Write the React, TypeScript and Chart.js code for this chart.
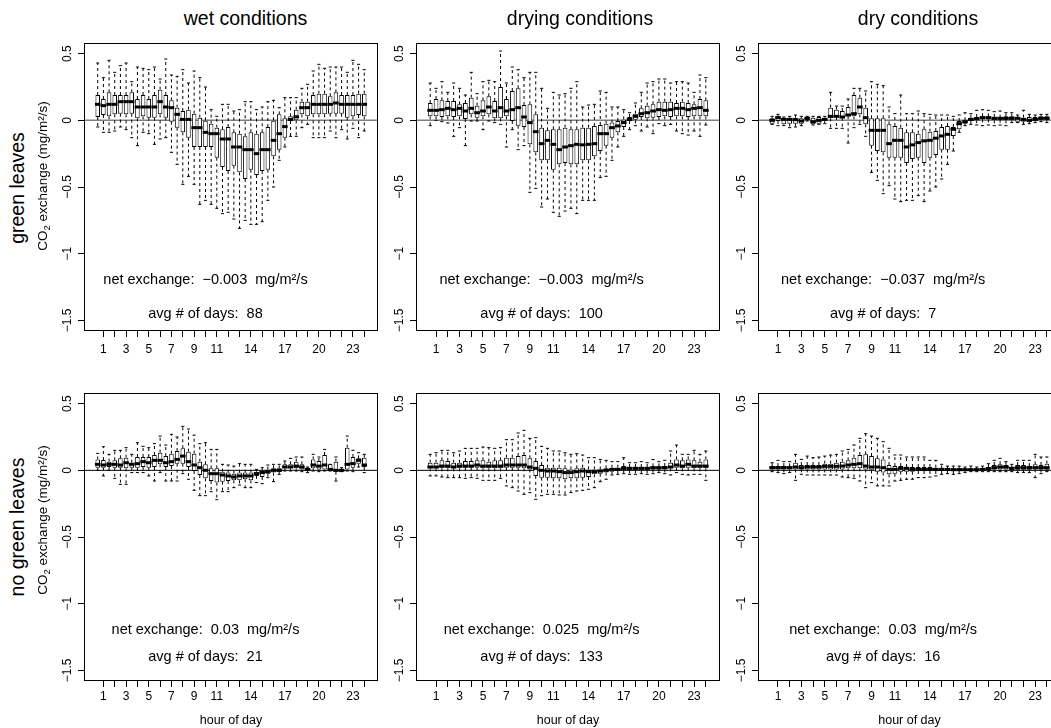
import React, { useEffect, useRef } from 'react';
import { Chart, registerables } from 'chart.js';

Chart.register(...registerables);

const FONT = "'Liberation Sans', Arial, Helvetica, sans-serif";

// ---------- categories / ticks ----------
const HALF_HOUR_SLOTS = [1,2,3,4,5,6,7,8,9,10,11,12,13,14,15,16,17,18,19,20,21,22,23,24,25,26,27,28,29,30,31,32,33,34,35,36,37,38,39,40,41,42,43,44,45,46,47,48];
const HOUR_TICK_SLOTS = [2,4,6,8,10,12,14,16,18,20,22,24,26,28,30,32,34,36,38,40,42,44,46,48];
const HOUR_TICK_LABELS = ['1','','3','','5','','7','','9','','11','','','14','','','17','','','20','','','23',''];
const Y_TICK_VALUES = [-1.5, -1, -0.5, 0, 0.5];
const Y_TICK_LABELS = ['\u22121.5', '\u22121', '\u22120.5', '0', '0.5'];
const COLUMN_TITLES = ['wet conditions', 'drying conditions', 'dry conditions'];
const ROW_TITLES = ['green leaves', 'no green leaves'];
const NET_EXCHANGE = ['\u22120.003', '\u22120.003', '\u22120.037', '0.03', '0.025', '0.03'];
const AVG_DAYS = ['88', '100', '7', '21', '133', '16'];

// ---------- wet conditions, green leaves ----------
const WET_GREEN_MAX = [0.43,0.32,0.45,0.36,0.41,0.43,0.29,0.40,0.39,0.38,0.40,0.31,
  0.46,0.34,0.33,0.38,0.28,0.37,0.32,0.25,0.08,0.03,0.12,0.12,
  0.07,0.08,0.14,0.14,0.08,0.10,0.14,0.15,0.095,0.17,0.17,0.17,
  0.24,0.27,0.37,0.42,0.39,0.40,0.40,0.40,0.36,0.45,0.42,0.38];
const WET_GREEN_Q3 = [0.19,0.16,0.21,0.19,0.19,0.19,0.21,0.16,0.19,0.16,0.19,0.23,
  0.19,0.15,0.095,0.07,0.08,0.05,0.02,0.0,-0.025,-0.055,-0.067,-0.05,
  -0.09,-0.10,-0.12,-0.09,-0.10,-0.09,-0.05,0.0,0.045,0.015,0.03,0.08,
  0.14,0.14,0.19,0.2,0.2,0.18,0.21,0.19,0.19,0.19,0.2,0.2];
const WET_GREEN_MED = [0.12,0.11,0.12,0.12,0.14,0.14,0.14,0.10,0.10,0.10,0.10,0.14,
  0.10,0.095,0.045,0.007,0.007,-0.055,-0.055,-0.09,-0.10,-0.10,-0.14,-0.14,
  -0.2,-0.2,-0.22,-0.22,-0.25,-0.22,-0.22,-0.15,-0.10,-0.047,0.007,0.027,
  0.095,0.095,0.12,0.12,0.12,0.12,0.13,0.12,0.12,0.12,0.12,0.12];
const WET_GREEN_Q1 = [0.025,0.04,0.03,0.045,0.05,0.045,0.05,0.015,0.03,0.02,0.02,0.045,
  0.02,-0.01,-0.055,-0.09,-0.13,-0.2,-0.2,-0.2,-0.2,-0.28,-0.35,-0.38,
  -0.34,-0.39,-0.44,-0.37,-0.41,-0.38,-0.37,-0.27,-0.22,-0.13,-0.005,0,
  0.045,0.03,0.045,0.045,0.045,0.05,0.05,0.05,0.02,0.03,0.04,0.03];
const WET_GREEN_MIN = [-0.05,-0.09,-0.09,-0.08,-0.05,-0.07,-0.13,-0.19,-0.09,-0.10,-0.18,-0.14,
  -0.13,-0.24,-0.33,-0.48,-0.42,-0.48,-0.63,-0.6,-0.63,-0.66,-0.70,-0.69,
  -0.74,-0.81,-0.75,-0.78,-0.78,-0.76,-0.60,-0.5,-0.30,-0.2,-0.12,-0.12,
  -0.055,-0.03,-0.13,-0.13,-0.13,-0.08,-0.13,-0.07,-0.14,-0.06,-0.13,-0.08];

// ---------- drying conditions, green leaves ----------
const DRYING_GREEN_MAX = [0.28,0.24,0.29,0.21,0.28,0.24,0.19,0.36,0.2,0.29,0.30,0.29,
  0.52,0.28,0.40,0.38,0.32,0.36,0.36,0.24,0.09,0.21,0.19,0.2,
  0.24,0.29,0.10,0.115,0.12,0.22,0.21,0.10,0.10,0.08,0.057,0.13,
  0.21,0.28,0.29,0.31,0.31,0.28,0.29,0.29,0.28,0.21,0.34,0.32];
const DRYING_GREEN_Q3 = [0.13,0.16,0.15,0.145,0.145,0.12,0.13,0.17,0.11,0.15,0.18,0.145,
  0.25,0.16,0.22,0.24,0.115,0.12,0.045,-0.055,-0.075,-0.067,-0.067,-0.055,
  -0.067,-0.067,-0.055,-0.055,-0.042,-0.035,-0.025,-0.017,-0.005,0.007,0.025,0.05,
  0.09,0.11,0.12,0.14,0.14,0.14,0.13,0.14,0.13,0.12,0.16,0.15];
const DRYING_GREEN_MED = [0.075,0.075,0.08,0.09,0.08,0.09,0.07,0.09,0.057,0.07,0.10,0.07,
  0.095,0.07,0.08,0.095,0.025,-0.017,-0.085,-0.175,-0.15,-0.18,-0.22,-0.2,
  -0.19,-0.18,-0.184,-0.18,-0.175,-0.10,-0.10,-0.055,-0.042,-0.017,0.007,0.03,
  0.05,0.057,0.07,0.08,0.075,0.08,0.09,0.09,0.08,0.09,0.095,0.075];
const DRYING_GREEN_Q1 = [0.03,0.03,0.025,0.03,0.025,0.03,0.01,0.045,0.02,0.03,0.045,0.015,
  0.015,0.03,-0.005,-0.04,-0.05,-0.18,-0.24,-0.30,-0.30,-0.37,-0.33,-0.32,
  -0.33,-0.33,-0.30,-0.30,-0.27,-0.23,-0.19,-0.13,-0.09,-0.05,-0.005,0,
  0.025,0.015,0.02,0.025,0.03,0.025,0.03,0.03,0.025,0.03,0.03,0.03];
const DRYING_GREEN_MIN = [-0.04,0,-0.01,-0.02,-0.12,-0.055,-0.19,-0.005,-0.005,-0.07,-0.005,-0.017,
  -0.03,-0.2,-0.07,-0.22,-0.19,-0.54,-0.51,-0.65,-0.59,-0.69,-0.72,-0.68,
  -0.66,-0.70,-0.60,-0.60,-0.60,-0.43,-0.42,-0.30,-0.2,-0.12,-0.07,-0.04,
  -0.08,-0.05,-0.10,-0.025,-0.04,-0.03,-0.08,-0.10,-0.11,-0.08,-0.12,-0.035];

// ---------- dry conditions, green leaves ----------
const DRY_GREEN_MAX = [0.03,0.045,0.025,0.03,0.04,0.03,0.03,0.03,0.03,0.03,0.21,0.107,
  0.107,0.16,0.24,0.24,0.22,0.29,0.27,0.26,0.10,0.05,0.19,0.05,
  0.05,0.07,0.05,0.045,0.04,0.04,0.04,0.03,0.04,0.057,0.05,0.075,
  0.08,0.075,0.065,0.07,0.057,0.057,0.04,0.075,0.045,0.04,0.045,0.045];
const DRY_GREEN_Q3 = [0.015,0.03,0.02,0.02,0.02,0.015,0.02,0.02,0.025,0.02,0.095,0.08,
  0.07,0.10,0.19,0.17,0.095,0.015,0.015,0.015,-0.03,-0.042,-0.055,-0.09,
  -0.09,-0.10,-0.067,-0.085,-0.08,-0.05,-0.042,-0.05,-0.005,0,0.02,0.025,
  0.03,0.03,0.025,0.02,0.03,0.03,0.02,0.02,0.025,0.025,0.03,0.03];
const DRY_GREEN_MED = [0,0.02,0.007,0.007,0.005,-0.005,0.015,-0.01,0,0.007,0.03,0.03,
  0.025,0.04,0.05,0.10,0.02,-0.075,-0.075,-0.075,-0.175,-0.15,-0.15,-0.2,
  -0.184,-0.167,-0.154,-0.15,-0.134,-0.117,-0.105,-0.067,-0.025,-0.01,0.007,0.012,
  0.02,0.02,0.015,0.015,0.015,0.015,0.015,0.007,0,0.007,0.015,0.015];
const DRY_GREEN_Q1 = [-0.025,-0.005,-0.03,-0.025,-0.025,-0.025,0.005,-0.03,-0.025,0,0.015,0.025,
  0.02,0.03,0.03,0.045,-0.03,-0.19,-0.23,-0.24,-0.28,-0.28,-0.28,-0.32,
  -0.29,-0.28,-0.32,-0.28,-0.26,-0.22,-0.22,-0.117,-0.067,-0.025,-0.005,0,
  0.007,0.007,0,0.005,0,0,-0.01,-0.01,-0.01,-0.005,0,0];
const DRY_GREEN_MIN = [-0.03,-0.04,-0.04,-0.055,-0.05,-0.04,-0.005,-0.035,-0.03,-0.025,-0.06,-0.06,
  -0.06,-0.17,-0.055,-0.03,-0.12,-0.39,-0.45,-0.55,-0.49,-0.59,-0.61,-0.60,
  -0.60,-0.565,-0.61,-0.53,-0.50,-0.44,-0.33,-0.23,-0.09,-0.04,-0.03,-0.035,
  -0.04,-0.035,-0.04,-0.035,-0.04,-0.017,-0.017,-0.03,-0.025,-0.017,-0.01,-0.017];

// ---------- wet conditions, no green leaves ----------
const WET_BARE_MAX = [0.127,0.177,0.12,0.15,0.15,0.17,0.12,0.207,0.18,0.17,0.2,0.257,
  0.19,0.27,0.25,0.33,0.31,0.264,0.2,0.207,0.157,0.157,0.045,0.04,
  0.032,0.05,0.045,0.045,0.007,0.02,0.04,0.045,0.045,0.07,0.09,0.1,
  0.1,0.025,0.12,0.1,0.157,0.045,0.1,0.02,0.257,0.15,0.132,0.12];
const WET_BARE_Q3 = [0.082,0.077,0.065,0.075,0.09,0.095,0.057,0.10,0.10,0.10,0.115,0.132,
  0.107,0.125,0.145,0.165,0.14,0.125,0.065,0.045,0.015,0.015,-0.01,-0.017,
  -0.025,-0.017,-0.017,-0.017,-0.01,0,0.007,0.015,0.015,0.045,0.045,0.065,
  0.045,0.015,0.082,0.07,0.115,0.045,0.065,0.007,0.17,0.1,0.09,0.095];
const WET_BARE_MED = [0.045,0.04,0.045,0.045,0.04,0.057,0.045,0.05,0.065,0.057,0.075,0.075,
  0.057,0.065,0.082,0.107,0.065,0.04,0.02,0,-0.025,-0.025,-0.035,-0.042,
  -0.05,-0.042,-0.042,-0.042,-0.025,-0.017,-0.01,0,0,0.025,0.025,0.032,
  0.025,0.007,0.04,0.032,0.04,0.007,0,0,0.045,0.05,0.075,0.04];
const WET_BARE_Q1 = [0.02,0.02,0.025,0.02,0.02,0.015,0.02,0.02,0.025,0.02,0.025,0.045,
  0.025,0.032,0.05,0.05,0.025,-0.005,-0.035,-0.06,-0.08,-0.092,-0.085,-0.08,
  -0.075,-0.075,-0.067,-0.075,-0.042,-0.05,-0.025,-0.017,-0.01,0.015,0.015,0.015,
  0.007,-0.005,0.015,0.007,0.007,-0.005,-0.01,-0.005,0.007,0.02,0.05,0.025];
const WET_BARE_MIN = [0,-0.042,0,-0.06,-0.105,-0.105,-0.017,-0.017,-0.017,-0.042,-0.08,-0.017,
  -0.08,-0.08,-0.08,-0.025,-0.067,-0.15,-0.19,-0.19,-0.16,-0.22,-0.16,-0.16,
  -0.13,-0.11,-0.13,-0.13,-0.092,-0.1,-0.055,-0.085,-0.03,-0.005,-0.005,-0.005,
  -0.01,-0.017,-0.005,-0.01,-0.005,-0.005,-0.08,-0.01,-0.005,-0.01,0.025,-0.017];

// ---------- drying conditions, no green leaves ----------
const DRYING_BARE_MAX = [0.12,0.132,0.15,0.15,0.132,0.145,0.165,0.165,0.165,0.175,0.17,0.165,
  0.17,0.23,0.23,0.28,0.3,0.24,0.245,0.18,0.165,0.145,0.145,0.132,
  0.12,0.125,0.115,0.095,0.095,0.082,0.075,0.065,0.065,0.095,0.057,0.057,
  0.065,0.057,0.082,0.065,0.075,0.145,0.19,0.12,0.12,0.15,0.12,0.145];
const DRYING_BARE_Q3 = [0.057,0.057,0.075,0.07,0.057,0.057,0.07,0.07,0.075,0.075,0.065,0.075,
  0.075,0.095,0.095,0.107,0.115,0.09,0.07,0.04,0.02,0.02,0.02,0.015,
  0.007,0.015,0.02,0.007,0.007,0.007,0.015,0.02,0.02,0.032,0.025,0.025,
  0.025,0.025,0.03,0.03,0.032,0.057,0.082,0.075,0.082,0.075,0.065,0.082];
const DRYING_BARE_MED = [0.025,0.025,0.032,0.032,0.025,0.032,0.032,0.032,0.04,0.032,0.032,0.032,
  0.032,0.04,0.04,0.04,0.04,0.025,0.015,0,-0.005,-0.005,-0.01,-0.017,
  -0.017,-0.01,-0.005,-0.01,-0.01,-0.005,0,0.007,0.007,0.015,0.015,0.015,
  0.015,0.015,0.02,0.02,0.02,0.025,0.04,0.032,0.045,0.032,0.032,0.032];
const DRYING_BARE_Q1 = [0.015,0.015,0.015,0.015,0.015,0.015,0.02,0.02,0.02,0.015,0.015,0.015,
  0.015,0.02,0.02,0.02,0.015,0.007,-0.042,-0.055,-0.055,-0.06,-0.06,-0.067,
  -0.06,-0.06,-0.055,-0.05,-0.03,-0.025,-0.017,-0.01,-0.005,0,0,0,
  0,0,0.005,0.005,0.007,0.015,0.02,0.015,0.02,0.015,0.015,0.015];
const DRYING_BARE_MIN = [-0.042,-0.042,-0.05,-0.055,-0.055,-0.055,-0.06,-0.055,-0.06,-0.075,-0.075,-0.075,
  -0.06,-0.117,-0.13,-0.155,-0.18,-0.167,-0.217,-0.19,-0.18,-0.18,-0.185,-0.185,
  -0.167,-0.155,-0.15,-0.142,-0.13,-0.085,-0.067,-0.035,-0.03,-0.025,-0.03,-0.03,
  -0.025,-0.03,-0.025,-0.017,-0.025,-0.035,-0.017,-0.03,-0.035,-0.03,-0.03,-0.075];

// ---------- dry conditions, no green leaves ----------
const DRY_BARE_MAX = [0.057,0.075,0.065,0.065,0.12,0.082,0.107,0.095,0.1,0.107,0.115,0.12,
  0.145,0.157,0.19,0.24,0.275,0.257,0.24,0.215,0.165,0.115,0.115,0.1,
  0.1,0.1,0.1,0.075,0.075,0.045,0.032,0.032,0.032,0.025,0.032,0.025,
  0.032,0.05,0.075,0.09,0.065,0.045,0.075,0.075,0.075,0.12,0.1,0.1];
const DRY_BARE_Q3 = [0.032,0.032,0.032,0.03,0.057,0.04,0.04,0.04,0.04,0.05,0.05,0.057,
  0.065,0.075,0.095,0.115,0.12,0.107,0.09,0.082,0.04,0.032,0.032,0.025,
  0.025,0.025,0.025,0.025,0.02,0.015,0.015,0.015,0.015,0.01,0.01,0.01,
  0.015,0.025,0.04,0.045,0.04,0.025,0.04,0.04,0.032,0.045,0.04,0.05];
const DRY_BARE_MED = [0.02,0.02,0.02,0.02,0.025,0.02,0.025,0.025,0.025,0.03,0.03,0.03,
  0.032,0.04,0.045,0.05,0.032,0.025,0.025,0.02,0.007,0.007,0.015,0.015,
  0.007,0.007,0.007,0.007,0.007,0.007,0.007,0.005,0.005,0.005,0.005,0.005,
  0.007,0.012,0.02,0.025,0.025,0.015,0.02,0.02,0.02,0.02,0.02,0.02];
const DRY_BARE_Q1 = [0.007,0.007,0.007,0.007,0.007,0.007,0.007,0.007,0.007,0.007,0.007,0.007,
  0.007,0.015,0.015,0.015,0.007,0,-0.01,-0.017,-0.03,-0.025,-0.01,-0.01,
  -0.01,-0.005,-0.005,-0.005,-0.005,-0.005,-0.005,-0.005,-0.005,-0.005,-0.005,-0.005,
  0,0,0.007,0.007,0.007,0.005,0.005,0.005,0.005,0.007,0.005,0.005];
const DRY_BARE_MIN = [-0.01,-0.017,-0.025,-0.017,-0.075,-0.03,-0.035,-0.035,-0.035,-0.035,-0.035,-0.035,
  -0.05,-0.055,-0.06,-0.08,-0.13,-0.092,-0.117,-0.117,-0.117,-0.08,-0.075,-0.067,
  -0.067,-0.055,-0.055,-0.05,-0.042,-0.03,-0.025,-0.03,-0.025,-0.017,-0.01,-0.01,
  -0.01,-0.01,-0.01,-0.01,-0.01,-0.01,-0.017,-0.017,-0.017,-0.055,-0.025,-0.01];

// ---------- panel table (built from the arrays above) ----------
const PANELS = [
  { col: 0, row: 0, max: WET_GREEN_MAX, q3: WET_GREEN_Q3, med: WET_GREEN_MED, q1: WET_GREEN_Q1, min: WET_GREEN_MIN },
  { col: 1, row: 0, max: DRYING_GREEN_MAX, q3: DRYING_GREEN_Q3, med: DRYING_GREEN_MED, q1: DRYING_GREEN_Q1, min: DRYING_GREEN_MIN },
  { col: 2, row: 0, max: DRY_GREEN_MAX, q3: DRY_GREEN_Q3, med: DRY_GREEN_MED, q1: DRY_GREEN_Q1, min: DRY_GREEN_MIN },
  { col: 0, row: 1, max: WET_BARE_MAX, q3: WET_BARE_Q3, med: WET_BARE_MED, q1: WET_BARE_Q1, min: WET_BARE_MIN },
  { col: 1, row: 1, max: DRYING_BARE_MAX, q3: DRYING_BARE_Q3, med: DRYING_BARE_MED, q1: DRYING_BARE_Q1, min: DRYING_BARE_MIN },
  { col: 2, row: 1, max: DRY_BARE_MAX, q3: DRY_BARE_Q3, med: DRY_BARE_MED, q1: DRY_BARE_Q1, min: DRY_BARE_MIN },
];

// ---------- layout ----------
const X_MIN = -1.42, X_MAX = 50.42;
const Y_MIN = -1.58, Y_MAX = 0.58;
const COL_LEFT = [84, 416, 758];
const COL_RIGHT = [378, 720, 1061];
const ROW_TOP = [42, 392];
const ROW_BOTTOM = [331, 681];
const YW = 50, XH = 34, PAD_T = 6, PAD_R = 8;
const ANNOT_SLOT = 20;
const NET_Y = -1.2;
const AVG_Y = [-1.455, -1.4];
const TITLE_X = [245.5, 580, 918];
const ZERO_STYLE = [{ color: '#808080', width: 1.5 }, { color: '#000000', width: 1 }];

function BoxPanel({ idx }: { idx: number }) {
  const ref = useRef<HTMLCanvasElement>(null);
  const p = PANELS[idx];
  const L = COL_LEFT[p.col], R = COL_RIGHT[p.col], T = ROW_TOP[p.row], B = ROW_BOTTOM[p.row];
  const left = L - YW, top = T - PAD_T;
  const width = R - L + YW + PAD_R, height = B - T + PAD_T + XH;

  useEffect(() => {
    if (!ref.current) return;
    const unit = (R - L) / (X_MAX - X_MIN);
    const boxW = 0.8 * unit;
    const whisker: any[] = [];
    const caps: any[] = [];
    HALF_HOUR_SLOTS.forEach((x, i) => {
      whisker.push({ x, y: p.q3[i] }, { x, y: p.max[i] }, { x, y: null });
      whisker.push({ x, y: p.q1[i] }, { x, y: p.min[i] }, { x, y: null });
      caps.push({ x, y: p.max[i] }, { x, y: p.min[i] });
    });
    const zs = ZERO_STYLE[p.row];
    const decor = {
      id: 'decor' + idx,
      beforeDatasetsDraw(chart: any) {
        const { ctx, chartArea: a, scales } = chart;
        const y0 = scales.y.getPixelForValue(0);
        ctx.save();
        ctx.strokeStyle = zs.color;
        ctx.lineWidth = zs.width;
        ctx.beginPath();
        ctx.moveTo(a.left, y0);
        ctx.lineTo(a.right, y0);
        ctx.stroke();
        ctx.restore();
      },
      afterDraw(chart: any) {
        const { ctx, chartArea: a, scales } = chart;
        ctx.save();
        ctx.strokeStyle = '#000';
        ctx.lineWidth = 1;
        ctx.strokeRect(a.left + 0.5, a.top + 0.5, a.right - a.left - 1, a.bottom - a.top - 1);
        ctx.fillStyle = '#000';
        ctx.textAlign = 'center';
        ctx.textBaseline = 'middle';
        ctx.font = `12px ${FONT}`;
        scales.y.ticks.forEach((t: any) => {
          const k = Y_TICK_VALUES.indexOf(t.value);
          const py = scales.y.getPixelForValue(t.value);
          ctx.save();
          ctx.translate(a.left - 16.5, py);
          ctx.rotate(-Math.PI / 2);
          ctx.fillText(Y_TICK_LABELS[k], 0, 0);
          ctx.restore();
        });
        ctx.font = `14.5px ${FONT}`;
        const tx = scales.x.getPixelForValue(ANNOT_SLOT);
        ctx.fillText(`net exchange:  ${NET_EXCHANGE[idx]}  mg/m\u00b2/s`, tx, scales.y.getPixelForValue(NET_Y));
        ctx.fillText(`avg # of days:  ${AVG_DAYS[idx]}`, tx, scales.y.getPixelForValue(AVG_Y[p.row]));
        ctx.restore();
      },
    };

    const chart = new Chart(ref.current, {
      type: 'bar',
      data: {
        datasets: [
          {
            type: 'scatter', label: 'median', order: 0,
            data: HALF_HOUR_SLOTS.map((x, i) => ({ x, y: p.med[i] })),
            pointStyle: 'line', pointRadius: boxW / 2 + 0.5, pointBorderWidth: 3,
            pointBorderColor: '#000', pointBackgroundColor: '#000', borderColor: '#000',
          },
          {
            type: 'scatter', label: 'whisker caps', order: 1,
            data: caps,
            pointStyle: 'line', pointRadius: boxW / 4 + 0.4, pointBorderWidth: 1,
            pointBorderColor: '#000', pointBackgroundColor: '#000', borderColor: '#000',
          },
          {
            type: 'bar', label: 'box', order: 2,
            data: HALF_HOUR_SLOTS.map((x, i) => ({ x, y: [p.q1[i], p.q3[i]] })),
            backgroundColor: '#ffffff', borderColor: '#000000', borderWidth: 1,
            borderSkipped: false, barThickness: boxW, inflateAmount: 0,
          },
          {
            type: 'line', label: 'whisker', order: 3,
            data: whisker,
            borderColor: '#000', borderWidth: 1, borderDash: [3, 3],
            pointRadius: 0, spanGaps: false, tension: 0, fill: false,
          },
        ] as any,
      },
      options: {
        animation: false,
        responsive: false,
        events: [],
        layout: { padding: { left: 0, top: PAD_T, right: PAD_R, bottom: 0 } },
        plugins: { legend: { display: false }, tooltip: { enabled: false }, title: { display: false } },
        scales: {
          x: {
            type: 'linear', min: X_MIN, max: X_MAX, offset: false,
            afterBuildTicks: (s: any) => { s.ticks = HOUR_TICK_SLOTS.map((v) => ({ value: v })); },
            afterFit: (s: any) => { s.height = XH; },
            ticks: {
              autoSkip: false, maxRotation: 0, minRotation: 0, padding: p.row === 0 ? 5 : 2,
              color: '#000', font: { size: 12, family: FONT },
              callback: (v: any) => { const k = HOUR_TICK_SLOTS.indexOf(Number(v)); return k >= 0 ? HOUR_TICK_LABELS[k] : ''; },
            },
            grid: { display: true, drawOnChartArea: false, drawTicks: true, tickLength: 6, color: '#000', lineWidth: 1, offset: false },
            border: { display: false },
          },
          y: {
            type: 'linear', min: Y_MIN, max: Y_MAX,
            afterBuildTicks: (s: any) => { s.ticks = Y_TICK_VALUES.map((v) => ({ value: v })); },
            afterFit: (s: any) => { s.width = YW; },
            ticks: { display: false },
            grid: { display: true, drawOnChartArea: false, drawTicks: true, tickLength: 6, color: '#000', lineWidth: 1 },
            border: { display: false },
          },
        },
      } as any,
      plugins: [decor],
    });
    return () => chart.destroy();
  }, [idx]);

  return (
    <canvas
      ref={ref}
      width={width}
      height={height}
      style={{ position: 'absolute', left, top, width, height }}
    />
  );
}

const textBase: React.CSSProperties = {
  position: 'absolute', whiteSpace: 'nowrap', lineHeight: 1, fontFamily: FONT, color: '#000',
};

function Label({ x, y, size, rotate, children }: any) {
  return (
    <div style={{ ...textBase, left: x, top: y, fontSize: size, transform: `translate(-50%, -50%)${rotate ? ' rotate(-90deg)' : ''}` }}>
      {children}
    </div>
  );
}

export default function App() {
  return (
    <div style={{ position: 'fixed', left: 0, top: 0, width: 1051, height: 728, overflow: 'hidden', background: '#fff' }}>
      {PANELS.map((_, i) => <BoxPanel key={i} idx={i} />)}
      {COLUMN_TITLES.map((t, i) => <Label key={'t' + i} x={TITLE_X[i]} y={19} size={19.5}>{t}</Label>)}
      {ROW_TITLES.map((t, i) => <Label key={'r' + i} x={18} y={i === 0 ? 187.5 : 526.5} size={19.5} rotate>{t}</Label>)}
      {[176, 520].map((y, i) => (
        <Label key={'c' + i} x={43} y={y} size={13.5} rotate>
          CO<sub style={{ fontSize: '70%', verticalAlign: '-0.25em', lineHeight: 0 }}>2</sub> exchange (mg/m{'\u00b2'}/s)
        </Label>
      ))}
      {[231, 568, 909.5].map((x, i) => <Label key={'h' + i} x={x} y={720} size={12.5}>hour of day</Label>)}
    </div>
  );
}
